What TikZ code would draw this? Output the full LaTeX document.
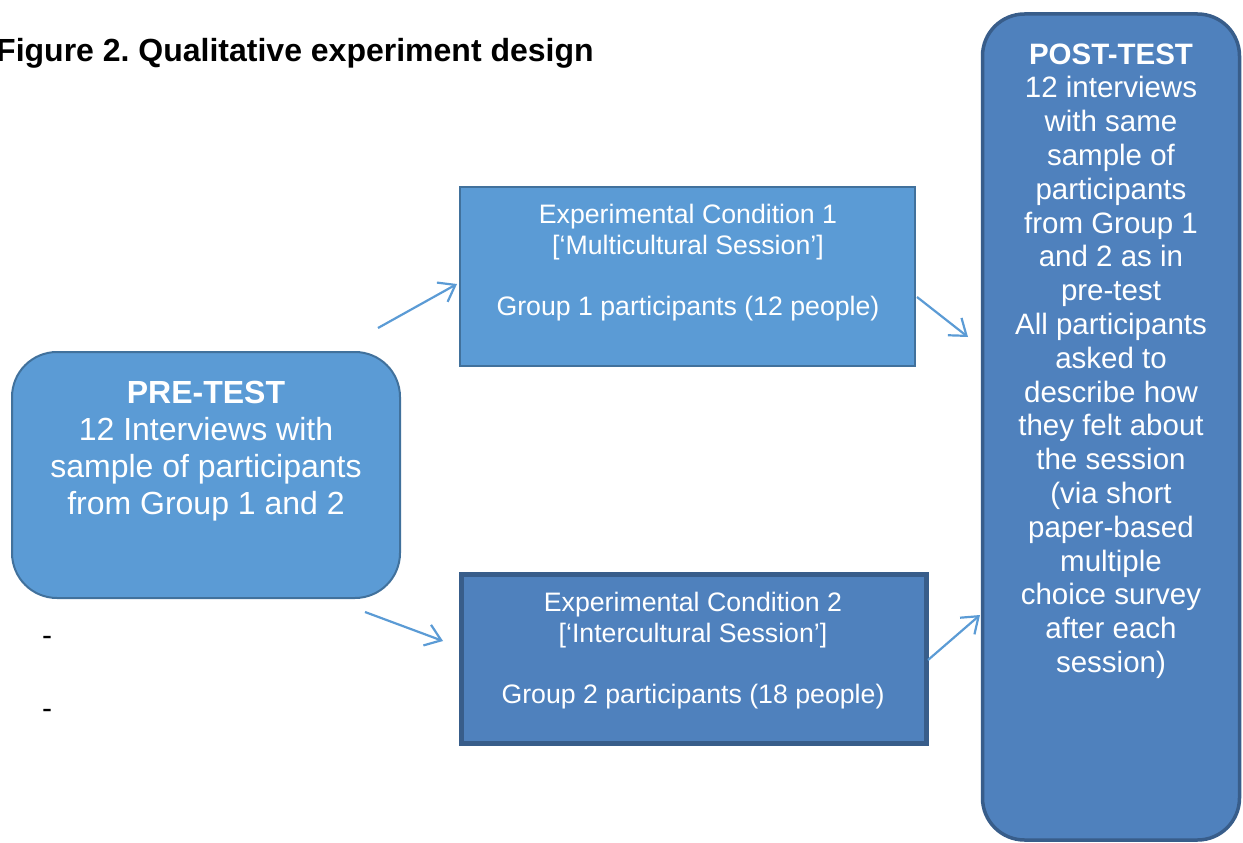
\documentclass[tikz,border=0pt]{standalone}
\usepackage{fontspec}
\setmainfont{Liberation Sans}
\usetikzlibrary{arrows.meta}
\definecolor{boxA}{HTML}{5B9BD5}
\definecolor{edgeA}{HTML}{41719C}
\definecolor{boxB}{HTML}{4F81BD}
\definecolor{edgeB}{HTML}{385D8A}
\definecolor{arr}{HTML}{5B9BD5}
\frenchspacing
\tikzset{
  boxa/.style={draw=edgeA, fill=boxA, line width=2pt, inner sep=0pt},
  boxb/.style={draw=edgeB, fill=boxB, inner sep=0pt},
  txt/.style={text=white, align=center, inner sep=0pt},
  dashtxt/.style={inner sep=0pt, font=\fontsize{30}{34}\selectfont},
  conn/.style={draw=arr, line width=2.2pt, -{Straight Barb[length=15pt,width=22pt,line width=2.2pt]}},
}
\begin{document}
\begin{tikzpicture}[x=1pt,y=-1pt]
\useasboundingbox (0,0) rectangle (1243,843);
% title
\node[anchor=base west, inner sep=0pt, font=\bfseries\fontsize{32}{38}\selectfont] (title) at (-4,62) {Figure 2. Qualitative experiment design};
% boxes
\node[boxa, rounded corners=45pt, minimum width=388pt, minimum height=246pt] (pre) at (206,475) {};
\node[boxa, minimum width=455pt, minimum height=179pt] (c1) at (687.5,276.5) {};
\node[boxb, line width=5pt, minimum width=465pt, minimum height=169pt] (c2) at (693.5,658.5) {};
\node[boxb, line width=3.5pt, rounded corners=42pt, minimum width=257pt, minimum height=826pt] (post) at (1111,427) {};
% texts
\node[txt, font=\fontsize{32}{36.8}\selectfont] (pretxt) at (206,451)
  {\textbf{PRE-TEST}\\12 Interviews with\\sample of participants\\from Group 1 and 2};
\node[txt, font=\fontsize{26.7}{30.7}\selectfont] (c1txt) at (688,263)
  {Experimental Condition 1\\{[}‘Multicultural Session’{]}\\[30.7pt]Group 1 participants (12 people)};
\node[txt, font=\fontsize{26.7}{30.7}\selectfont] (c2txt) at (693,651)
  {Experimental Condition 2\\{[}‘Intercultural Session’{]}\\[30.7pt]Group 2 participants (18 people)};
\node[txt, font=\fontsize{29.5}{33.8}\selectfont] (posttxt) at (1111,361)
  {\textbf{POST-TEST}\\12 interviews\\with same\\sample of\\participants\\from Group 1\\and 2 as in\\pre-test\\All participants\\asked to\\describe how\\they felt about\\the session\\(via short\\paper-based\\multiple\\choice survey\\after each\\session)};
% dashes
\node[dashtxt] (d1) at (47,641) {-};
\node[dashtxt] (d2) at (47,714) {-};
% arrows
\coordinate (a1s) at (378,328);
\coordinate (a1e) at (457,284);
\coordinate (a2s) at (917,297);
\coordinate (a2e) at (968,337);
\coordinate (a3s) at (365,612);
\coordinate (a3e) at (443,641);
\coordinate (a4s) at (928,660);
\coordinate (a4e) at (980,615);
\draw[conn] (a1s) -- (a1e);
\draw[conn] (a2s) -- (a2e);
\draw[conn] (a3s) -- (a3e);
\draw[conn] (a4s) -- (a4e);
\end{tikzpicture}
\end{document}
